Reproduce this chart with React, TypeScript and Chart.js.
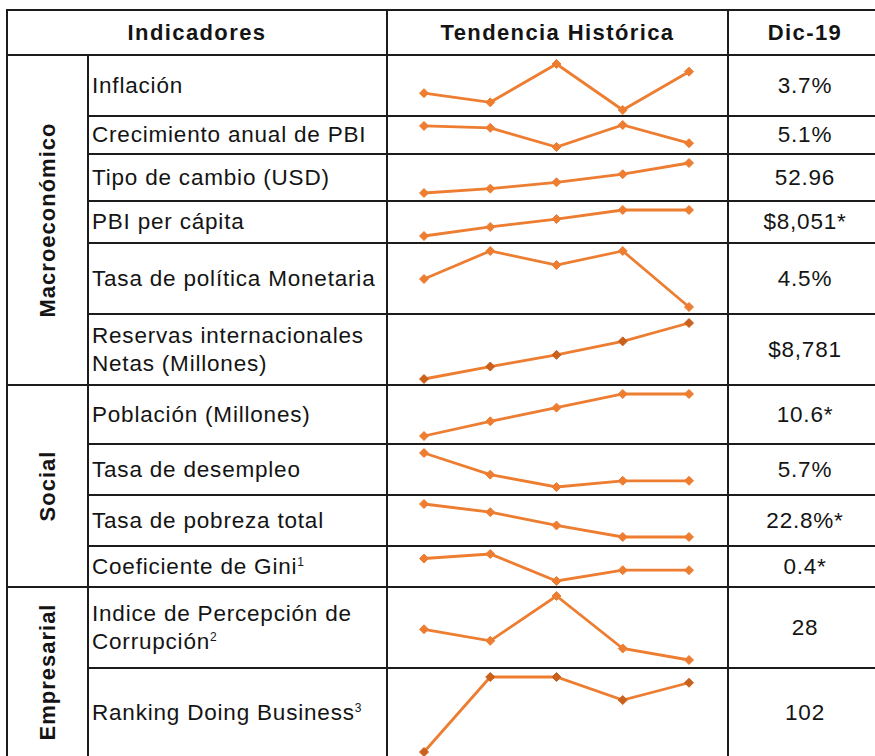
import React, { useEffect, useRef } from "react";
import { Chart, registerables } from "chart.js";

Chart.register(...registerables);

// ---------- DATA ----------
const YEARS = ["2015", "2016", "2017", "2018", "2019"];

const INFLACION = [2.3, 1.7, 4.2, 1.2, 3.7];
const CRECIMIENTO_PBI = [6.9, 6.7, 4.7, 7.0, 5.1];
const TIPO_CAMBIO = [45.55, 46.62, 48.19, 50.2, 52.96];
const PBI_PER_CAPITA = [6900, 7300, 7650, 8051, 8051];
const TASA_POLITICA = [5.0, 5.5, 5.25, 5.5, 4.5];
const RESERVAS = [5266, 6047, 6781, 7628, 8781];
const POBLACION = [10.2, 10.34, 10.47, 10.6, 10.6];
const DESEMPLEO = [6.6, 5.9, 5.5, 5.7, 5.7];
const POBREZA = [30.5, 28.6, 25.5, 22.8, 22.8];
const GINI = [0.465, 0.47, 0.44, 0.452, 0.452];
const IPC_CORRUPCION = [30.4, 29.5, 33, 28.9, 28];
const DOING_BUSINESS = [90, 103, 103, 99, 102];

const SERIES = [
  INFLACION,
  CRECIMIENTO_PBI,
  TIPO_CAMBIO,
  PBI_PER_CAPITA,
  TASA_POLITICA,
  RESERVAS,
  POBLACION,
  DESEMPLEO,
  POBREZA,
  GINI,
  IPC_CORRUPCION,
  DOING_BUSINESS,
];

const INDICATOR_LABELS: { lines: string[]; sup?: string }[] = [
  { lines: ["Inflación"] },
  { lines: ["Crecimiento anual de PBI"] },
  { lines: ["Tipo de cambio (USD)"] },
  { lines: ["PBI per cápita"] },
  { lines: ["Tasa de política Monetaria"] },
  { lines: ["Reservas internacionales", "Netas (Millones)"] },
  { lines: ["Población (Millones)"] },
  { lines: ["Tasa de desempleo"] },
  { lines: ["Tasa de pobreza total"] },
  { lines: ["Coeficiente de Gini"], sup: "1" },
  { lines: ["Indice de Percepción de", "Corrupción"], sup: "2" },
  { lines: ["Ranking Doing Business"], sup: "3" },
];

const DIC19 = ["3.7%", "5.1%", "52.96", "$8,051*", "4.5%", "$8,781", "10.6*", "5.7%", "22.8%*", "0.4*", "28", "102"];

const GROUPS = ["Macroeconómico", "Social", "Empresarial"];
const HEADERS = ["Indicadores", "Tendencia Histórica", "Dic-19"];

// ---------- LAYOUT / STYLE ----------
const ROW_LINES = [55, 116, 154, 201, 243, 314, 385, 444, 495, 546, 587, 668, 757];
const GROUP_ROWS = [[0, 6], [6, 10], [10, 12]];
// pixel band (top = max value, bottom = min value) for each sparkline
const BANDS = [
  [64, 110], [125, 147], [163, 193], [210, 236], [251, 307], [323, 379],
  [394, 436], [453, 487], [504, 537], [554, 581], [596, 660], [677, 752],
];
const DARK_MARKERS = [5, 11];

const X_LEFT = 7, X_GROUP = 88, X_IND = 387, X_TREND = 728, X_RIGHT = 882, Y_TOP = 10;
const LINE_COLOR = "#1c1c1c";
const ORANGE = "#ED7D31";
const ORANGE_DARK = "#C9601B";
const FONT = "'Liberation Sans', Arial, Helvetica, sans-serif";
const TEXT = "#141414";

function HLine({ y, x1, x2 }: { y: number; x1: number; x2: number }) {
  return <div style={{ position: "absolute", left: x1 - 1, top: y - 1, width: x2 - x1 + 2, height: 2, background: LINE_COLOR }} />;
}
function VLine({ x, y1, y2 }: { x: number; y1: number; y2: number }) {
  return <div style={{ position: "absolute", left: x - 1, top: y1 - 1, width: 2, height: y2 - y1 + 2, background: LINE_COLOR }} />;
}

function Sparkline({ idx }: { idx: number }) {
  const ref = useRef<HTMLCanvasElement | null>(null);
  const data = SERIES[idx];
  const [bt, bb] = BANDS[idx];
  const pad = 7;
  const top = bt - pad;
  const height = bb - bt + pad * 2;
  const left = X_IND + 1;
  const width = X_TREND - X_IND - 2;
  useEffect(() => {
    if (!ref.current) return;
    const marker = DARK_MARKERS.includes(idx) ? ORANGE_DARK : ORANGE;
    const chart = new Chart(ref.current, {
      type: "line",
      data: {
        labels: YEARS,
        datasets: [
          {
            data,
            borderColor: ORANGE,
            borderWidth: 2.8,
            tension: 0,
            pointStyle: "rectRot",
            pointRadius: 4.5,
            pointBackgroundColor: marker,
            pointBorderColor: marker,
            pointBorderWidth: 1,
            clip: false as any,
          },
        ],
      },
      options: {
        animation: false,
        responsive: false,
        maintainAspectRatio: false,
        events: [],
        layout: { padding: { left: 424 - left, right: left + width - 689, top: pad, bottom: pad } },
        scales: {
          x: { display: false, offset: false },
          y: { display: false, min: Math.min(...data), max: Math.max(...data) },
        },
        plugins: { legend: { display: false }, tooltip: { enabled: false } },
      },
    });
    return () => chart.destroy();
  }, [idx]);
  return (
    <canvas
      ref={ref}
      width={width}
      height={height}
      style={{ position: "absolute", left, top, width, height }}
    />
  );
}

export default function App() {
  const textStyle: React.CSSProperties = {
    fontFamily: FONT,
    fontSize: 22.5,
    letterSpacing: 0.8,
    color: TEXT,
    lineHeight: "28px",
    whiteSpace: "nowrap",
  };
  const headStyle: React.CSSProperties = {
    fontFamily: FONT,
    fontSize: 22,
    fontWeight: "bold",
    letterSpacing: 1.4,
    color: TEXT,
    whiteSpace: "nowrap",
  };

  const cells: React.ReactNode[] = [];
  const headCols = [[X_LEFT, X_IND], [X_IND, X_TREND], [X_TREND, X_RIGHT]];
  HEADERS.forEach((h, i) => {
    const [a, b] = headCols[i];
    cells.push(
      <div key={"h" + i} style={{ position: "absolute", left: a, top: Y_TOP, width: b - a, height: ROW_LINES[0] - Y_TOP, display: "flex", alignItems: "center", justifyContent: "center", ...headStyle }}>
        {h}
      </div>
    );
  });

  INDICATOR_LABELS.forEach((lab, i) => {
    const y1 = ROW_LINES[i];
    const y2 = ROW_LINES[i + 1];
    cells.push(
      <div key={"l" + i} style={{ position: "absolute", left: X_GROUP + 4, top: y1, width: X_IND - X_GROUP - 6, height: y2 - y1, display: "flex", flexDirection: "column", justifyContent: "center", ...textStyle }}>
        {lab.lines.map((ln, j) => (
          <div key={j}>
            {ln}
            {lab.sup && j === lab.lines.length - 1 ? (
              <sup style={{ fontSize: 12, letterSpacing: 0, verticalAlign: "top", lineHeight: "20px", position: "relative", top: -1 }}>{lab.sup}</sup>
            ) : null}
          </div>
        ))}
      </div>
    );
    cells.push(
      <div key={"v" + i} style={{ position: "absolute", left: X_TREND, top: y1, width: X_RIGHT - X_TREND, height: y2 - y1, display: "flex", alignItems: "center", justifyContent: "center", ...textStyle }}>
        {DIC19[i]}
      </div>
    );
  });

  GROUPS.forEach((g, i) => {
    const [r1, r2] = GROUP_ROWS[i];
    const cy = (ROW_LINES[r1] + ROW_LINES[r2]) / 2;
    cells.push(
      <div key={"g" + i} style={{ position: "absolute", left: (X_LEFT + X_GROUP) / 2, top: cy, transform: "translate(-50%, -50%) rotate(-90deg)", ...headStyle, letterSpacing: 1.0 }}>
        {g}
      </div>
    );
  });

  const lines: React.ReactNode[] = [];
  lines.push(<HLine key="t" y={Y_TOP} x1={X_LEFT} x2={X_RIGHT} />);
  ROW_LINES.forEach((y, i) => {
    const isGroupEdge = i === 0 || GROUP_ROWS.some(([, r2]) => r2 === i);
    lines.push(<HLine key={"hl" + i} y={y} x1={isGroupEdge ? X_LEFT : X_GROUP} x2={X_RIGHT} />);
  });
  const yBottom = ROW_LINES[ROW_LINES.length - 1];
  lines.push(<VLine key="v0" x={X_LEFT} y1={Y_TOP} y2={yBottom} />);
  lines.push(<VLine key="v1" x={X_GROUP} y1={ROW_LINES[0]} y2={yBottom} />);
  lines.push(<VLine key="v2" x={X_IND} y1={Y_TOP} y2={yBottom} />);
  lines.push(<VLine key="v3" x={X_TREND} y1={Y_TOP} y2={yBottom} />);
  lines.push(<VLine key="v4" x={X_RIGHT} y1={Y_TOP} y2={yBottom} />);

  return (
    <div style={{ position: "fixed", left: 0, top: 0, width: 875, height: 756, overflow: "hidden", background: "#ffffff" }}>
      {lines}
      {cells}
      {SERIES.map((_, i) => (
        <Sparkline key={i} idx={i} />
      ))}
    </div>
  );
}
